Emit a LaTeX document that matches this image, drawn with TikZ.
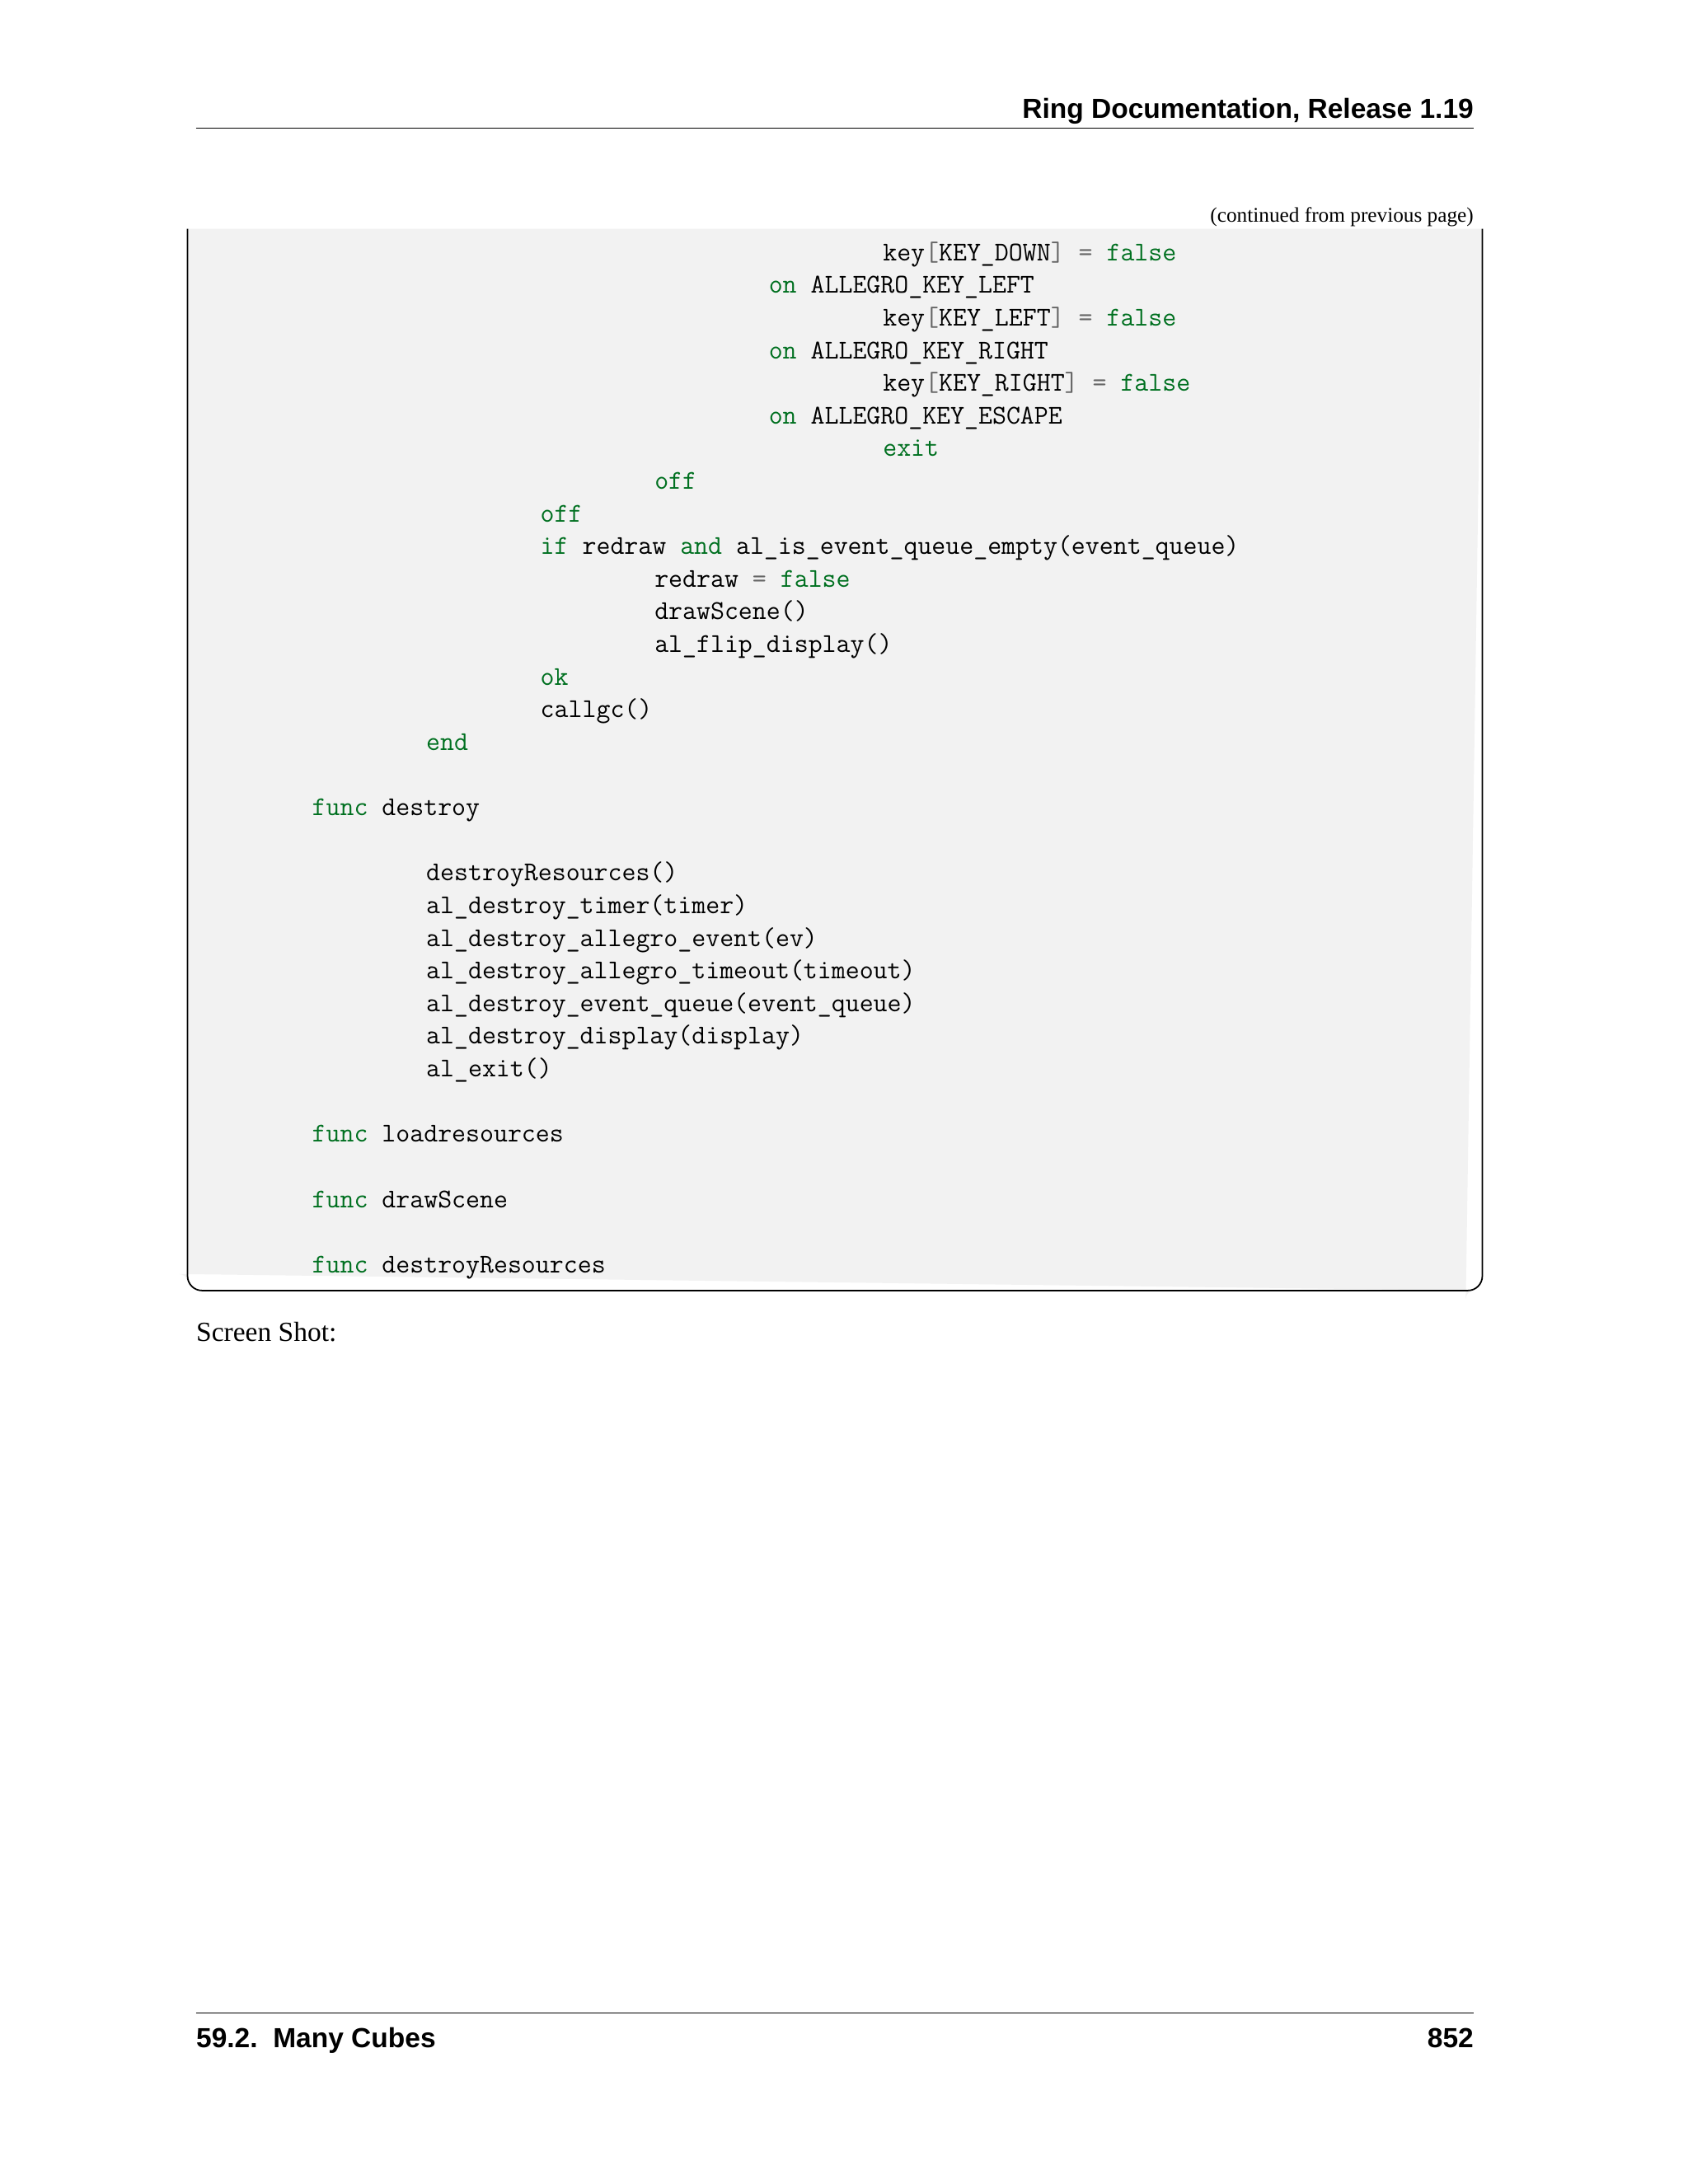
\documentclass[tikz,border=0pt]{standalone}
\usepackage{fontspec}
\setmainfont{Liberation Serif}
\setsansfont{Liberation Sans}
\definecolor{kwc}{HTML}{007020}
\definecolor{opc}{HTML}{666666}
\definecolor{boxbg}{HTML}{F2F2F2}
\newcommand{\kw}[1]{\textcolor{kwc}{#1}}
\newcommand{\op}[1]{\textcolor{opc}{#1}}
\begin{document}
\begin{tikzpicture}[x=0.02cm,y=-0.02cm,
  code/.style={anchor=base west,inner sep=0,font=\ttfamily\fontsize{11.2}{13}\selectfont},
  hdr/.style={inner sep=0,font=\sffamily\bfseries\fontsize{11.4}{13}\selectfont}]
\useasboundingbox (0,0) rectangle (1224,1584);
\fill[white] (0,0) rectangle (1224,1584);
\node[hdr,anchor=base east] (h) at (1069,86) {Ring Documentation, Release 1.19};
\draw[line width=0.6pt] (142,93) -- (1069,93);
\node[inner sep=0,anchor=base east,font=\fontsize{8.6}{10}\selectfont] (c) at (1069,161) {(continued from previous page)};
\fill[boxbg] (136,166) -- (136,930) arc(180:90:-6) -- (1069,936) arc(90:0:-6) -- (1075,166) -- cycle;
\draw[line width=0.6pt,rounded corners=6] (136,166) -- (136,936) -- (1075,936) -- (1075,166);
\def\cx#1{226+10.35*#1}
\foreach \c/\l/\t in {
 40/0/{key\op{[}KEY\_DOWN\op{]} \op{=} \kw{false}},
 32/1/{\kw{on} ALLEGRO\_KEY\_LEFT},
 40/2/{key\op{[}KEY\_LEFT\op{]} \op{=} \kw{false}},
 32/3/{\kw{on} ALLEGRO\_KEY\_RIGHT},
 40/4/{key\op{[}KEY\_RIGHT\op{]} \op{=} \kw{false}},
 32/5/{\kw{on} ALLEGRO\_KEY\_ESCAPE},
 40/6/{\kw{exit}},
 24/7/{\kw{off}},
 16/8/{\kw{off}},
 16/9/{\kw{if} redraw \kw{and} al\_is\_event\_queue\_empty(event\_queue)},
 24/10/{redraw \op{=} \kw{false}},
 24/11/{drawScene()},
 24/12/{al\_flip\_display()},
 16/13/{\kw{ok}},
 16/14/{callgc()},
 8/15/{\kw{end}},
 0/17/{\kw{func} destroy},
 8/19/{destroyResources()},
 8/20/{al\_destroy\_timer(timer)},
 8/21/{al\_destroy\_allegro\_event(ev)},
 8/22/{al\_destroy\_allegro\_timeout(timeout)},
 8/23/{al\_destroy\_event\_queue(event\_queue)},
 8/24/{al\_destroy\_display(display)},
 8/25/{al\_exit()},
 0/27/{\kw{func} loadresources},
 0/29/{\kw{func} drawScene},
 0/31/{\kw{func} destroyResources}}
 {\node[code] (l\l) at ({226+10.35*\c},{189+23.68*\l}) {\t};}
\node[inner sep=0,anchor=base west,font=\fontsize{11.4}{13}\selectfont] (s) at (142,973) {Screen Shot:};
\draw[line width=0.6pt] (142,1460) -- (1069,1460);
\node[hdr,anchor=base west] (f1) at (142,1485) {59.2.\ \ Many Cubes};
\node[hdr,anchor=base east] (f2) at (1069,1485) {852};
\end{tikzpicture}
\end{document}
